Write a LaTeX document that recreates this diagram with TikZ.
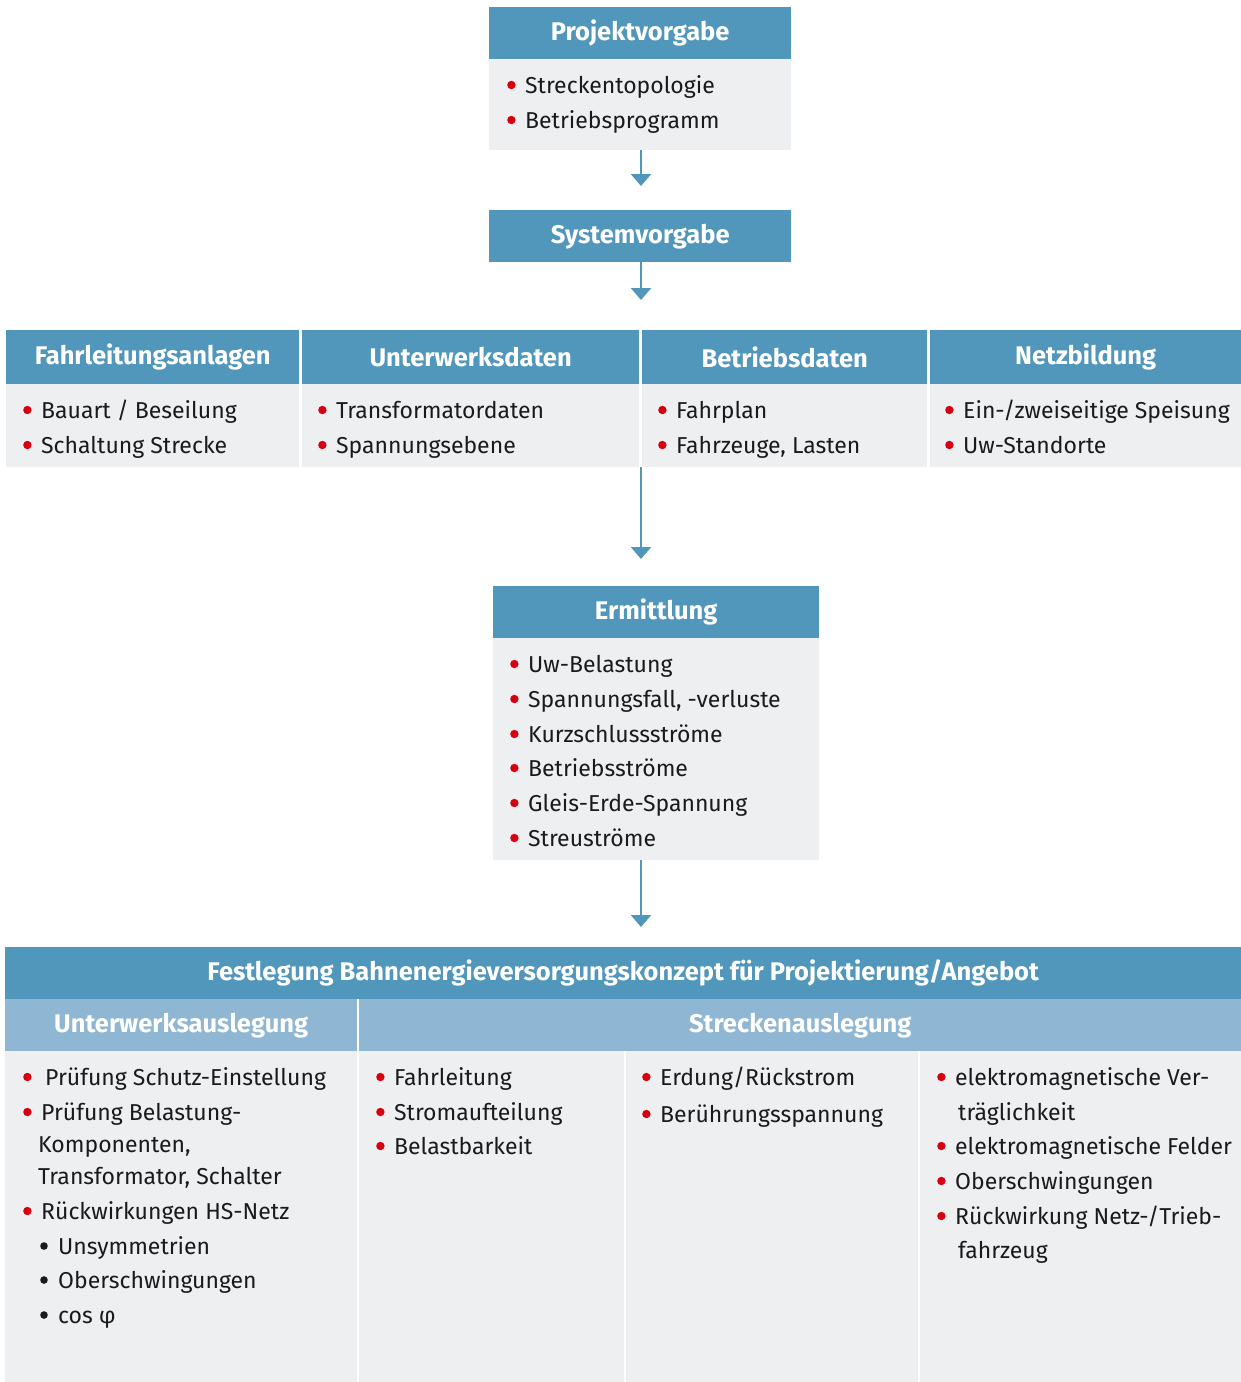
\documentclass[tikz,border=0pt]{standalone}
\usepackage{fontspec}
\setmainfont{Fira Sans}
\usetikzlibrary{arrows.meta}
\definecolor{hblue}{HTML}{5196BB}
\definecolor{lblue}{HTML}{8FB6D2}
\definecolor{bodyg}{HTML}{EEEFF1}
\definecolor{bred}{HTML}{D7000F}
\definecolor{txt}{HTML}{1A1A1A}
\newcommand\rb{\makebox[18pt][l]{\tikz[baseline=0pt]\fill[bred] (4pt,8pt) circle[radius=4.2pt];}}
\newcommand\bb{\makebox[18pt][l]{\tikz[baseline=0pt]\fill[txt] (4pt,8pt) circle[radius=3.8pt];}}
\begin{document}
\begin{tikzpicture}[x=1pt,y=-1pt,
  hdr/.style={fill=hblue, text=white, font=\bfseries\fontsize{25.5}{25.5}\selectfont, inner sep=0pt, anchor=north west, align=center},
  lhdr/.style={hdr, fill=lblue},
  bodybox/.style={fill=bodyg, inner sep=0pt, anchor=north west},
  item/.style={anchor=west, inner sep=0pt, font=\fontsize{23}{23}\selectfont, text=txt, text height=20pt, text depth=4pt},
  arr/.style={draw=hblue, line width=2.5pt, -{Triangle[width=20pt,length=12pt]}}]
\fill[white] (0,0) rectangle (1241,1382);
\useasboundingbox (0,0) rectangle (1241,1382);

% Projektvorgabe
\node[hdr, minimum width=302pt, minimum height=52pt] (pv) at (489,7) {Projektvorgabe};
\node[bodybox, minimum width=302pt, minimum height=91pt] (pvb) at (489,59) {};
\node[item] (pv1) at (507,85) {\rb Streckentopologie};
\node[item] (pv2) at (507,120) {\rb Betriebsprogramm};

% Systemvorgabe
\node[hdr, minimum width=302pt, minimum height=52pt] (sv) at (489,210) {Systemvorgabe};

% Row of four
\node[hdr, minimum width=293pt, minimum height=54pt] (fl) at (6,330) {Fahrleitungsanlagen};
\node[bodybox, minimum width=293pt, minimum height=83pt] (flb) at (6,384) {};
\node[hdr, minimum width=337pt, minimum height=54pt] (uw) at (302,330) {Unterwerksdaten};
\node[bodybox, minimum width=337pt, minimum height=83pt] (uwb) at (302,384) {};
\node[hdr, minimum width=285pt, minimum height=54pt] (bd) at (642,330) {Betriebsdaten};
\node[bodybox, minimum width=285pt, minimum height=83pt] (bdb) at (642,384) {};
\node[hdr, minimum width=311pt, minimum height=54pt] (nb) at (930,330) {Netzbildung};
\node[bodybox, minimum width=311pt, minimum height=83pt] (nbb) at (930,384) {};

\node[item] (fl1) at (23,410) {\rb Bauart / Beseilung};
\node[item] (fl2) at (23,445) {\rb Schaltung Strecke};
\node[item] (uw1) at (318,410) {\rb Transformatordaten};
\node[item] (uw2) at (318,445) {\rb Spannungsebene};
\node[item] (bd1) at (658,410) {\rb Fahrplan};
\node[item] (bd2) at (658,445) {\rb Fahrzeuge, Lasten};
\node[item] (nb1) at (945,410) {\rb Ein-/zweiseitige Speisung};
\node[item] (nb2) at (945,445) {\rb Uw-Standorte};

\coordinate (rowb) at (641,467);

% Ermittlung
\node[hdr, minimum width=326pt, minimum height=52pt] (erm) at (493,586) {Ermittlung};
\node[bodybox, minimum width=326pt, minimum height=222pt] (ermb) at (493,638) {};
\node[item] (e1) at (510,664) {\rb Uw-Belastung};
\node[item] (e2) at (510,699) {\rb Spannungsfall, -verluste};
\node[item] (e3) at (510,734) {\rb Kurzschlussströme};
\node[item] (e4) at (510,768) {\rb Betriebsströme};
\node[item] (e5) at (510,803) {\rb Gleis-Erde-Spannung};
\node[item] (e6) at (510,838) {\rb Streuströme};

% Festlegung
\node[hdr, minimum width=1236pt, minimum height=52pt] (fest) at (5,947) {Festlegung Bahnenergieversorgungskonzept für Projektierung/Angebot};
\node[lhdr, minimum width=352pt, minimum height=52pt] (uwa) at (5,999) {Unterwerksauslegung};
\node[lhdr, minimum width=882pt, minimum height=52pt] (sta) at (359,999) {Streckenauslegung};
\node[bodybox, minimum width=352pt, minimum height=331pt] (c1) at (5,1051) {};
\node[bodybox, minimum width=265pt, minimum height=331pt] (c2) at (359,1051) {};
\node[bodybox, minimum width=292pt, minimum height=331pt] (c3) at (626,1051) {};
\node[bodybox, minimum width=321pt, minimum height=331pt] (c4) at (920,1051) {};

\node[item] (a1) at (23,1077) {\rb\hspace{4pt}Prüfung Schutz-Einstellung};
\node[item] (a2) at (23,1112) {\rb Prüfung Belastung-};
\node[item] (a3) at (38,1144) {Komponenten,};
\node[item] (a4) at (38,1176) {Transformator, Schalter};
\node[item] (a5) at (23,1211) {\rb Rückwirkungen HS-Netz};
\node[item] (a6) at (40,1246) {\bb Unsymmetrien};
\node[item] (a7) at (40,1280) {\bb Oberschwingungen};
\node[item] (a8) at (40,1315) {\bb cos φ};

\node[item] (b1) at (376,1077) {\rb Fahrleitung};
\node[item] (b2) at (376,1112) {\rb Stromaufteilung};
\node[item] (b3) at (376,1146) {\rb Belastbarkeit};

\node[item] (d1) at (642,1077) {\rb Erdung/Rückstrom};
\node[item] (d2) at (642,1114) {\rb Berührungsspannung};

\node[item] (f1) at (937,1077) {\rb elektromagnetische Ver-};
\node[item] (f2) at (958,1112) {träglichkeit};
\node[item] (f3) at (937,1146) {\rb elektromagnetische Felder};
\node[item] (f4) at (937,1181) {\rb Oberschwingungen};
\node[item] (f5) at (937,1216) {\rb Rückwirkung Netz-/Trieb-};
\node[item] (f6) at (958,1250) {fahrzeug};

% Arrows
\draw[arr, shorten >=24pt] (pvb.south -| rowb) -- (sv.north -| rowb);
\draw[arr, shorten >=30pt] (sv.south -| rowb) -- (fl.north -| rowb);
\draw[arr, shorten >=27pt] (rowb) -- (erm.north -| rowb);
\draw[arr, shorten >=20pt] (ermb.south -| rowb) -- (fest.north -| rowb);
\end{tikzpicture}
\end{document}
